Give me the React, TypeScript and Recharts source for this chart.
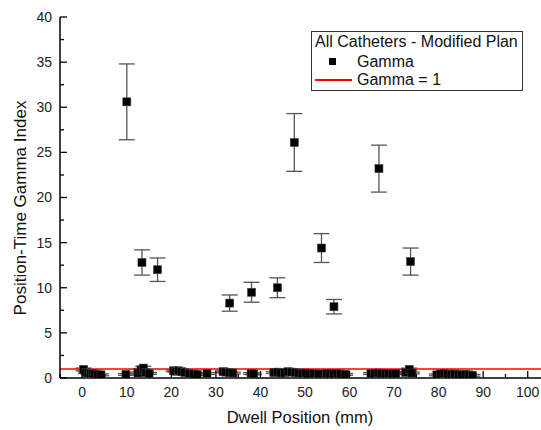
import React from 'react';
import { ScatterChart, Scatter, XAxis, YAxis, ReferenceLine, ErrorBar, Label } from 'recharts';

// High gamma points (with visible error bars)
const highX = [10.0, 13.4, 16.9, 33.1, 38.0, 43.8, 47.6, 53.7, 56.5, 66.6, 73.7];
const highY = [30.6, 12.8, 12.0, 8.3, 9.5, 10.0, 26.1, 14.4, 7.9, 23.2, 12.9];
const highErr = [4.2, 1.4, 1.3, 0.9, 1.1, 1.1, 3.2, 1.6, 0.8, 2.6, 1.5];

// Low gamma points near zero
const lowX = [
  0.3, 0.8, 1.3, 1.8, 2.3, 2.8, 3.5, 4.2,
  9.8, 12.5, 13.2, 13.7, 14.3, 15.0,
  20.5, 21.0, 21.6, 22.3, 23.0, 24.0, 25.0, 25.8, 28.0,
  31.6, 32.2, 33.0, 33.8, 37.9, 38.5,
  43.0, 43.8, 44.6, 45.4, 46.2, 47.0, 47.8, 48.6, 49.4,
  50.2, 51.0, 52.0, 53.0,
  54.8, 55.6, 56.4, 57.2, 58.0, 59.0,
  64.8, 65.6, 66.4, 67.2, 68.0, 68.8, 69.6, 70.4,
  72.6, 73.4, 74.0,
  79.6, 80.4, 81.2, 82.0, 82.8, 83.6, 84.4, 85.2, 86.0, 86.8, 87.6,
];
const lowY = [
  0.95, 0.6, 0.55, 0.5, 0.5, 0.45, 0.4, 0.35,
  0.4, 0.55, 0.9, 1.1, 0.6, 0.5,
  0.8, 0.75, 0.8, 0.7, 0.6, 0.5, 0.45, 0.4, 0.5,
  0.7, 0.65, 0.6, 0.55, 0.5, 0.45,
  0.6, 0.65, 0.55, 0.6, 0.7, 0.65, 0.6, 0.55, 0.5,
  0.55, 0.45, 0.5, 0.45,
  0.5, 0.5, 0.45, 0.5, 0.45, 0.4,
  0.5, 0.5, 0.55, 0.5, 0.45, 0.5, 0.45, 0.5,
  0.6, 0.95, 0.55,
  0.35, 0.45, 0.5, 0.45, 0.4, 0.45, 0.4, 0.35, 0.4, 0.35, 0.3,
];
const lowErr = [
  0.15, 0.1, 0.1, 0.1, 0.1, 0.1, 0.1, 0.1,
  0.1, 0.1, 0.15, 0.2, 0.1, 0.1,
  0.1, 0.1, 0.1, 0.1, 0.1, 0.1, 0.1, 0.1, 0.1,
  0.1, 0.1, 0.1, 0.1, 0.1, 0.1,
  0.1, 0.1, 0.1, 0.1, 0.1, 0.1, 0.1, 0.1, 0.1,
  0.1, 0.1, 0.1, 0.1,
  0.1, 0.1, 0.1, 0.1, 0.1, 0.1,
  0.1, 0.1, 0.1, 0.1, 0.1, 0.1, 0.1, 0.1,
  0.1, 0.15, 0.1,
  0.1, 0.1, 0.1, 0.1, 0.1, 0.1, 0.1, 0.1, 0.1, 0.1, 0.1,
];

const xTicks = [-5, 0, 5, 10, 15, 20, 25, 30, 35, 40, 45, 50, 55, 60, 65, 70, 75, 80, 85, 90, 95, 100, 105];
const xLabels = [0, 10, 20, 30, 40, 50, 60, 70, 80, 90, 100];
const yTicks = [0, 2.5, 5, 7.5, 10, 12.5, 15, 17.5, 20, 22.5, 25, 27.5, 30, 32.5, 35, 37.5, 40];
const yLabels = [0, 5, 10, 15, 20, 25, 30, 35, 40];

const data = [
  ...lowX.map((x, i) => ({ x, y: lowY[i], err: lowErr[i] })),
  ...highX.map((x, i) => ({ x, y: highY[i], err: highErr[i] })),
];

const FONT = '"Liberation Sans", Arial, sans-serif';

const BottomTick = (props: any) => {
  const { x, y, payload } = props;
  const v = payload.value;
  const major = xLabels.includes(v);
  return (
    <g>
      <line x1={x} x2={x} y1={y} y2={y - (major ? 7 : 4)} stroke="#000" strokeWidth={1.3} />
      {major && (
        <text x={x} y={y + 9} dy="0.71em" textAnchor="middle" fontFamily={FONT} fontSize={14} fill="#222">
          {v}
        </text>
      )}
    </g>
  );
};

const TopTick = (props: any) => {
  const { x, y, payload } = props;
  const v = payload.value;
  const major = xLabels.includes(v);
  return <line x1={x} x2={x} y1={y} y2={y + (major ? 7 : 4)} stroke="#000" strokeWidth={1.3} />;
};

const LeftTick = (props: any) => {
  const { x, y, payload } = props;
  const v = payload.value;
  const major = yLabels.includes(v);
  return (
    <g>
      <line x1={x} x2={x + (major ? 7 : 4)} y1={y} y2={y} stroke="#000" strokeWidth={1.3} />
      {major && (
        <text x={x - 8} y={y} dy="0.35em" textAnchor="end" fontFamily={FONT} fontSize={14} fill="#222">
          {v}
        </text>
      )}
    </g>
  );
};

const Square = (props: any) => {
  const { cx, cy } = props;
  if (cx == null || cy == null) return null;
  return <rect x={cx - 4} y={cy - 4} width={8} height={8} fill="#000" stroke="#444" strokeWidth={0.6} />;
};

export default function App() {
  return (
    <div style={{ position: 'absolute', left: 0, top: 0, width: 541, height: 430, overflow: 'hidden', background: '#fff' }}>
      <ScatterChart width={560} height={430} margin={{ top: 17, right: 10, bottom: 0, left: 0 }}>
        <XAxis
          xAxisId={0}
          type="number"
          dataKey="x"
          domain={[-5, 105]}
          ticks={xTicks}
          interval={0}
          tickSize={0}
          tickMargin={0}
          tick={<BottomTick />}
          tickLine={false}
          height={52}
          axisLine={{ stroke: '#000', strokeWidth: 1.5 }}
          allowDataOverflow
        >
          <Label
            content={() => (
              <text x={300} y={417} textAnchor="middle" dy="0.35em" fontFamily={FONT} fontSize={16.5} fill="#111">
                Dwell Position (mm)
              </text>
            )}
          />
        </XAxis>
        <XAxis
          xAxisId="top"
          orientation="top"
          type="number"
          domain={[-5, 105]}
          ticks={xTicks}
          interval={0}
          tickSize={0}
          tickMargin={0}
          tick={<TopTick />}
          tickLine={false}
          height={0}
          axisLine={{ stroke: '#000', strokeWidth: 1.5 }}
          allowDataOverflow
        />
        <YAxis
          type="number"
          dataKey="y"
          domain={[0, 40]}
          ticks={yTicks}
          interval={0}
          tickSize={0}
          tickMargin={0}
          tick={<LeftTick />}
          tickLine={false}
          width={60}
          axisLine={{ stroke: '#000', strokeWidth: 1.5 }}
          allowDataOverflow
        >
          <Label
            content={() => (
              <text
                x={20}
                y={208}
                transform="rotate(-90, 20, 208)"
                textAnchor="middle"
                dy="0.35em"
                fontFamily={FONT}
                fontSize={17}
                fill="#111"
              >
                Position-Time Gamma Index
              </text>
            )}
          />
        </YAxis>
        <Scatter data={data} shape={<Square />} isAnimationActive={false}>
          <ErrorBar dataKey="err" direction="y" width={8} stroke="#555" strokeWidth={1.3} isAnimationActive={false} />
        </Scatter>
        <ReferenceLine y={1} stroke="#ff0000" strokeWidth={1.6} ifOverflow="extendDomain" />
      </ScatterChart>
      <div
        style={{
          position: 'absolute',
          left: 311,
          top: 31,
          width: 210,
          height: 58,
          border: '1px solid #333',
          background: '#fff',
          fontFamily: FONT,
          fontSize: 16,
          color: '#111',
        }}
      >
        <div style={{ position: 'absolute', left: 3, top: 1, lineHeight: '18px', whiteSpace: 'nowrap' }}>
          All Catheters - Modified Plan
        </div>
        <div style={{ position: 'absolute', left: 17, top: 26, width: 7, height: 7, background: '#000' }} />
        <div style={{ position: 'absolute', left: 45, top: 21, lineHeight: '18px', whiteSpace: 'nowrap' }}>Gamma</div>
        <div style={{ position: 'absolute', left: 3, top: 47, width: 37, height: 2, background: '#ff0000' }} />
        <div style={{ position: 'absolute', left: 45, top: 39, lineHeight: '18px', whiteSpace: 'nowrap' }}>Gamma = 1</div>
      </div>
    </div>
  );
}
